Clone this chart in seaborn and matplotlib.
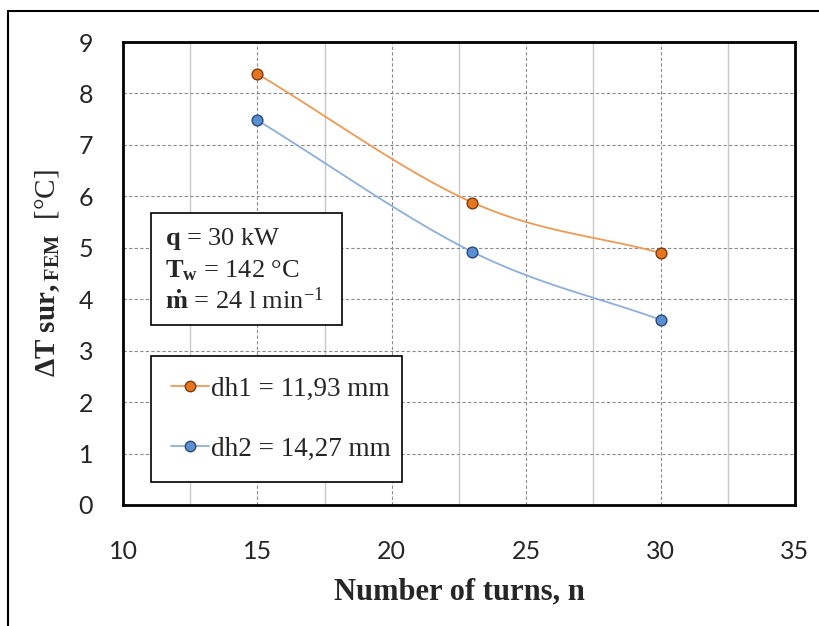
import numpy as np
import pandas as pd
import matplotlib
matplotlib.use("Agg")
import matplotlib.pyplot as plt
from matplotlib.lines import Line2D
from matplotlib.patches import Rectangle
from matplotlib.ticker import MultipleLocator
import seaborn as sns

# data
turns = [15, 23, 30]
dh1_vals = [8.38, 5.88, 4.90]
dh2_vals = [7.48, 4.92, 3.60]
labels = ["dh1 = 11,93 mm", "dh2 = 14,27 mm"]
colors = ["#E8761E", "#5B8FD0"]
line_colors = ["#EE9A55", "#8EAEDC"]
edge_colors = ["#7A3A10", "#2B4A7A"]

sns.set_style("white")
plt.rcParams["mathtext.fontset"] = "custom"
plt.rcParams["mathtext.rm"] = "Liberation Serif"
plt.rcParams["mathtext.bf"] = "Liberation Serif:bold"
plt.rcParams["mathtext.it"] = "Liberation Serif:italic"


def smooth(x, y, n=40):
    # Catmull-Rom curve through the points (like Excel's smoothed line)
    x = np.asarray(x, float)
    y = np.asarray(y, float)
    px = np.concatenate([[2 * x[0] - x[1]], x, [2 * x[-1] - x[-2]]])
    py = np.concatenate([[2 * y[0] - y[1]], y, [2 * y[-1] - y[-2]]])
    xs, ys = [], []
    t = np.linspace(0, 1, n)
    for i in range(1, len(px) - 2):
        for p, out in ((px, xs), (py, ys)):
            p0, p1, p2, p3 = p[i - 1], p[i], p[i + 1], p[i + 2]
            out.extend(0.5 * ((2 * p1) + (-p0 + p2) * t
                              + (2 * p0 - 5 * p1 + 4 * p2 - p3) * t ** 2
                              + (-p0 + 3 * p1 - 3 * p2 + p3) * t ** 3))
    return np.array(xs), np.array(ys)


fig = plt.figure(figsize=(8.2, 6.26), dpi=100)
ax = fig.add_axes([0.15, 0.1933, 0.8195, 0.7396])

series = [dh1_vals, dh2_vals]
for vals, lab, c, lc, ec in zip(series, labels, colors, line_colors, edge_colors):
    sx, sy = smooth(turns, vals)
    sns.lineplot(x=sx, y=sy, ax=ax, color=lc, linewidth=1.3, sort=False, zorder=3)
    sns.scatterplot(x=turns, y=vals, ax=ax, color=c, edgecolor=ec, s=60,
                    linewidth=1.0, zorder=4)

ax.set_xlim(10, 35)
ax.set_ylim(0, 9)
ax.xaxis.set_major_locator(MultipleLocator(5))
ax.xaxis.set_minor_locator(MultipleLocator(2.5))
ax.yaxis.set_major_locator(MultipleLocator(1))

ax.grid(True, which="major", axis="both", color="#8C8C8C", linestyle=(0, (3, 2)), linewidth=0.8)
ax.grid(True, which="minor", axis="x", color="#C8C8C8", linestyle="-", linewidth=1.0)
ax.set_axisbelow(True)

for sp in ax.spines.values():
    sp.set_color("black")
    sp.set_linewidth(2.0)

ax.tick_params(axis="both", which="major", direction="out", length=7.5, width=1.6,
               labelsize=18, color="black")
ax.tick_params(axis="x", which="major", pad=18)
ax.tick_params(axis="y", which="major", pad=14)
ax.tick_params(axis="x", which="minor", length=0)
for lbl in ax.get_xticklabels() + ax.get_yticklabels():
    lbl.set_fontfamily("Lato")

ax.set_xlabel("Number of turns, n", fontsize=22, fontweight="bold",
              fontfamily="Liberation Serif", labelpad=10)
ax.set_ylabel(r"$\mathbf{\Delta T\ sur,}_{\mathbf{FEM}}$  [°C]", fontsize=21,
              fontfamily="Liberation Serif", labelpad=12)

# parameter box
ax.add_patch(Rectangle((0.0417, 0.389), 0.284, 0.242, transform=ax.transAxes,
                       facecolor="white", edgecolor="black", linewidth=1.2, zorder=5))
info = [r"$\mathbf{q}$ = 30 kW",
        r"$\mathbf{T}_{\mathbf{w}}$ = 142 °C",
        r"$\mathbf{\dot{m}}$ = 24 l min$^{-1}$"]
for i, s in enumerate(info):
    ax.text(0.063, 0.561 - i * 0.069, s, transform=ax.transAxes, fontsize=19,
            fontfamily="Liberation Serif", va="baseline", ha="left", zorder=6)

handles = [Line2D([], [], color=lc, marker="o", markerfacecolor=c, markeredgecolor=ec,
                  markersize=7.5, linewidth=1.3)
           for c, lc, ec in zip(colors, line_colors, edge_colors)]
leg = ax.legend(handles, labels, loc="lower left",
                bbox_to_anchor=(0.0417, 0.0497, 0.3735, 0.2786), mode="expand",
                prop={"family": "Liberation Serif", "size": 19.5},
                frameon=True, fancybox=False, edgecolor="black", framealpha=1,
                labelspacing=1.3, borderpad=0.75, handlelength=1.4, handletextpad=0.05,
                borderaxespad=0)
leg.get_frame().set_linewidth(1.2)
leg.set_zorder(6)

# outer frame (left and top edges visible in the reference)
fig.add_artist(Line2D([0.010, 0.010], [0.0, 0.983], transform=fig.transFigure,
                      color="black", linewidth=1.5))
fig.add_artist(Line2D([0.010, 1.0], [0.983, 0.983], transform=fig.transFigure,
                      color="black", linewidth=1.5))

fig.savefig("out.png", dpi=100)
